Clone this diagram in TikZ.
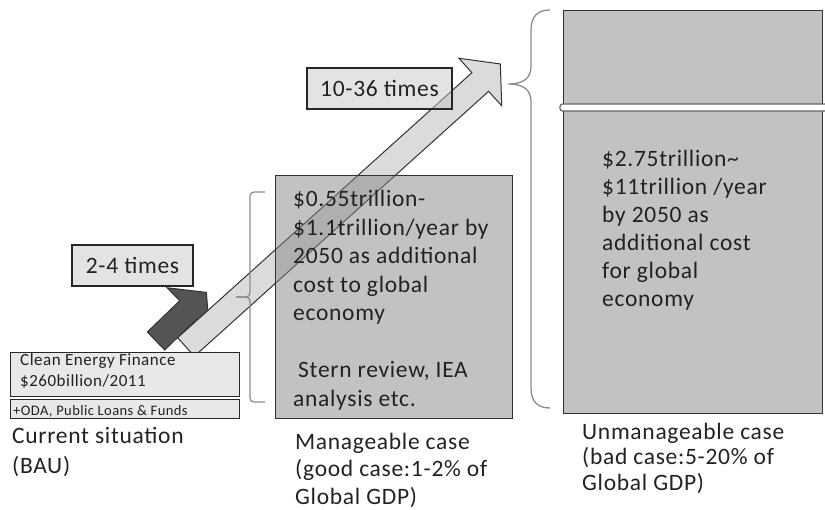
\documentclass[tikz,border=0pt]{standalone}
\usepackage{fontspec}
\setmainfont{Carlito}[LetterSpace=3]
\usepackage{tikz}
\definecolor{inkgray}{HTML}{222222}

\tikzset{
  casebox/.style={draw=black!80, line width=1.2pt, fill=black!48, fill opacity=0.5, text opacity=1},
  baubox/.style={draw=black!85, line width=1.2pt, fill=black!9},
  timesbox/.style={draw=black!85, line width=1.2pt, fill=black!22, fill opacity=0.5, text opacity=1,
    text=inkgray, inner sep=0pt, font=\fontsize{23.5}{28}\selectfont},
  casetext/.style={anchor=base west, inner sep=0pt, align=left, text=inkgray, font=\fontsize{23.5}{28.5}\selectfont},
  smalltext/.style={anchor=base west, inner sep=0pt, align=left, text=inkgray, font=\fontsize{17}{21}\selectfont},
  bracket/.style={draw=black!45, line width=1.3pt},
  blockarrow/.style={draw=black!80, line width=1pt, line join=miter},
}

\begin{document}
\begin{tikzpicture}[x=1pt, y=-1pt]
  \useasboundingbox (0,0) rectangle (825,510);

  \begin{scope}[shift={(156,341)}, rotate=44]
    \draw[blockarrow, fill=black!67] (0,-12.5) -- (45,-12.5) -- (45,-30.5) -- (70,0)
      -- (45,30.5) -- (45,12.5) -- (0,12.5) -- cycle;
  \end{scope}
  \begin{scope}[shift={(186,347)}, rotate=42]
    \draw[blockarrow, fill=black!14] (0,-12.5) -- (396,-12.5) -- (396,-32) -- (423,0)
      -- (396,32) -- (396,12.5) -- (0,12.5) -- cycle;
  \end{scope}

  \node[baubox, minimum width=229pt, minimum height=44pt, anchor=north west] (clean) at (10,352) {};
  \node[baubox, minimum width=229pt, minimum height=19pt, anchor=north west] (oda) at (10,399) {};
  \node[casebox, minimum width=237pt, minimum height=243pt, anchor=north west] (good) at (275,175) {};
  \node[casebox, minimum width=259pt, minimum height=403pt, anchor=north west] (bad) at (563,10) {};
  \draw[draw=black!60, line width=1.2pt, fill=white, rounded corners=2.5pt] (560,104) rectangle (830,111);

  \node[timesbox, minimum width=121pt, minimum height=41pt] (smallstep) at (132.5,265.5) {2-4 times};
  \node[timesbox, minimum width=145pt, minimum height=41pt] (bigstep) at (379.5,88.5) {10-36 times};

  \draw[bracket] (550,10) .. controls (538,10) and (531,16) .. (531,30) -- (531,66)
    .. controls (531,78) and (524,84) .. (508,84) .. controls (524,84) and (531,90) .. (531,102)
    -- (531,388) .. controls (531,402) and (538,408) .. (550,408);
  \draw[bracket, rounded corners=4pt] (265,192) -| (250,297) -- (236,297);
  \draw[bracket, rounded corners=4pt] (236,297) -- (250,297) |- (265,402);

  \node[smalltext] (cleantext) at (20,386.5) {Clean Energy Finance\\\$260billion/2011};
  \node[smalltext, font=\fontsize{14.5}{17}\selectfont] (odatext) at (13,416) {+ODA, Public Loans \& Funds};
  \node[casetext] (goodtext) at (293,406.5) {\$0.55trillion-\\\$1.1trillion/year by\\2050 as additional\\cost to global\\economy\\[28.5pt]\hspace{5pt}Stern review, IEA\\analysis etc.};
  \node[casetext, font=\fontsize{23.5}{28}\selectfont] (badtext) at (602,307) {\$2.75trillion\textasciitilde\\\$11trillion /year\\by 2050 as\\additional cost\\for global\\economy};

  \node[casetext, font=\fontsize{23.5}{30}\selectfont] (baucap) at (12,474) {Current situation\\(BAU)};
  \node[casetext, font=\fontsize{23.5}{27.5}\selectfont] (goodcap) at (295,504) {Manageable case\\(good case:1-2\% of\\Global GDP)};
  \node[casetext, font=\fontsize{23.5}{25.5}\selectfont] (badcap) at (582,490) {Unmanageable case\\(bad case:5-20\% of\\Global GDP)};
\end{tikzpicture}
\end{document}
